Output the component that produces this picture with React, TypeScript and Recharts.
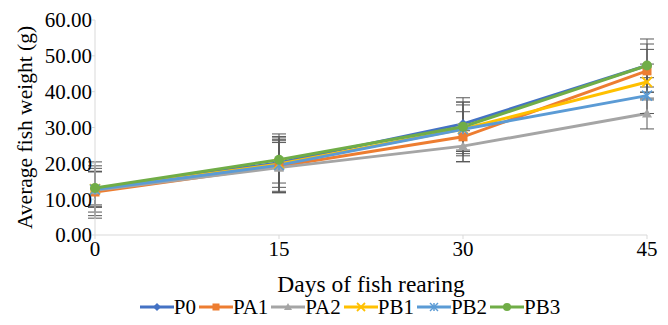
import React from "react";
import {
  LineChart,
  Line,
  XAxis,
  YAxis,
  ErrorBar,
  Legend,
} from "recharts";

const days = [0, 15, 30, 45];
const yTicks = [0, 10, 20, 30, 40, 50, 60];

const p0 = [12.9, 20.2, 31.0, 47.3];
const pa1 = [12.0, 19.2, 27.4, 45.8];
const pa2 = [12.5, 18.8, 24.8, 33.9];
const pb1 = [12.8, 19.8, 29.6, 42.7];
const pb2 = [12.7, 19.5, 29.5, 38.9];
const pb3 = [13.1, 21.0, 30.2, 47.3];

const p0Err = [7.5, 8.0, 7.3, 7.4];
const pa1Err = [7.3, 7.4, 7.0, 6.0];
const pa2Err = [6.1, 7.0, 4.3, 4.3];
const pb1Err = [4.8, 6.5, 7.5, 5.0];
const pb2Err = [5.0, 7.6, 6.8, 5.0];
const pb3Err = [4.7, 6.5, 6.9, 6.0];

type Shape = "diamond" | "square" | "triangle" | "x" | "star" | "circle";

const series: { key: string; values: number[]; err: number[]; color: string; shape: Shape }[] = [
  { key: "P0", values: p0, err: p0Err, color: "#4472C4", shape: "diamond" },
  { key: "PA1", values: pa1, err: pa1Err, color: "#ED7D31", shape: "square" },
  { key: "PA2", values: pa2, err: pa2Err, color: "#A5A5A5", shape: "triangle" },
  { key: "PB1", values: pb1, err: pb1Err, color: "#FFC000", shape: "x" },
  { key: "PB2", values: pb2, err: pb2Err, color: "#5B9BD5", shape: "star" },
  { key: "PB3", values: pb3, err: pb3Err, color: "#70AD47", shape: "circle" },
];

const data = days.map((d, i) => {
  const row: Record<string, number> = { day: d };
  series.forEach((s) => {
    row[s.key] = s.values[i];
    row[s.key + "_err"] = s.err[i];
  });
  return row;
});

const FONT = "'Liberation Serif', 'Times New Roman', serif";

function Marker({ cx, cy, color, shape, size = 5 }: { cx: number; cy: number; color: string; shape: Shape; size?: number }) {
  const r = size;
  switch (shape) {
    case "diamond":
      return <polygon points={`${cx},${cy - r} ${cx + r},${cy} ${cx},${cy + r} ${cx - r},${cy}`} fill={color} />;
    case "square":
      return <rect x={cx - r + 0.5} y={cy - r + 0.5} width={2 * r - 1} height={2 * r - 1} fill={color} />;
    case "triangle":
      return <polygon points={`${cx},${cy - r} ${cx + r},${cy + r - 1} ${cx - r},${cy + r - 1}`} fill={color} />;
    case "x":
      return (
        <g stroke={color} strokeWidth={1.8}>
          <line x1={cx - r} y1={cy - r} x2={cx + r} y2={cy + r} />
          <line x1={cx - r} y1={cy + r} x2={cx + r} y2={cy - r} />
        </g>
      );
    case "star":
      return (
        <g stroke={color} strokeWidth={1.5}>
          <line x1={cx - r} y1={cy - r} x2={cx + r} y2={cy + r} />
          <line x1={cx - r} y1={cy + r} x2={cx + r} y2={cy - r} />
          <line x1={cx} y1={cy - r} x2={cx} y2={cy + r} />
        </g>
      );
    default:
      return <circle cx={cx} cy={cy} r={r} fill={color} />;
  }
}

function LegendContent() {
  return (
    <div
      style={{
        display: "flex",
        justifyContent: "center",
        fontFamily: FONT,
        fontSize: 21,
        color: "#000",
        lineHeight: "24px",
        paddingLeft: 56,
      }}
    >
      {series.map((s) => (
        <div key={s.key} style={{ display: "flex", alignItems: "center", marginRight: 3 }}>
          <svg width={34} height={14}>
            <line x1={0} y1={7} x2={34} y2={7} stroke={s.color} strokeWidth={3} />
            <Marker cx={17} cy={7} color={s.color} shape={s.shape} size={4} />
          </svg>
          <span>{s.key}</span>
        </div>
      ))}
    </div>
  );
}

export default function App() {
  return (
    <div style={{ position: "absolute", left: 0, top: 0, background: "#fff" }}>
      <LineChart
        width={668}
        height={325}
        data={data}
        margin={{ top: 20, right: 21, bottom: 0, left: 0 }}
      >
        <XAxis
          dataKey="day"
          type="number"
          domain={[0, 45]}
          ticks={days}
          height={60}
          axisLine={{ stroke: "#D9D9D9" }}
          tickLine={{ stroke: "#D9D9D9" }}
          tickSize={4}
          tick={{ fill: "#000", fontFamily: FONT, fontSize: 21 }}
          label={{
            value: "Days of fish rearing",
            position: "insideBottom",
            offset: 3,
            fill: "#000",
            fontFamily: FONT,
            fontSize: 23.5,
          }}
        />
        <YAxis
          type="number"
          domain={[0, 60]}
          ticks={yTicks}
          width={95}
          axisLine={{ stroke: "#D9D9D9" }}
          tickLine={{ stroke: "#D9D9D9" }}
          tickSize={3}
          tickMargin={0}
          tickFormatter={(v: number) => v.toFixed(2)}
          tick={{ fill: "#000", fontFamily: FONT, fontSize: 21 }}
          label={{
            value: "Average fish weight (g)",
            angle: -90,
            position: "insideLeft",
            offset: 24,
            style: { textAnchor: "middle" },
            fill: "#000",
            fontFamily: FONT,
            fontSize: 21.5,
          }}
        />
        <Legend verticalAlign="bottom" height={30} content={<LegendContent />} />
        {series.map((s) => (
          <Line
            key={s.key}
            dataKey={s.key}
            stroke={s.color}
            strokeWidth={3}
            isAnimationActive={false}
            dot={(props: any) => (
              <Marker key={`${s.key}-${props.index}`} cx={props.cx} cy={props.cy} color={s.color} shape={s.shape} />
            )}
            activeDot={false}
          >
            <ErrorBar dataKey={s.key + "_err"} direction="y" width={7} stroke="#595959" strokeWidth={1} />
          </Line>
        ))}
      </LineChart>
    </div>
  );
}
